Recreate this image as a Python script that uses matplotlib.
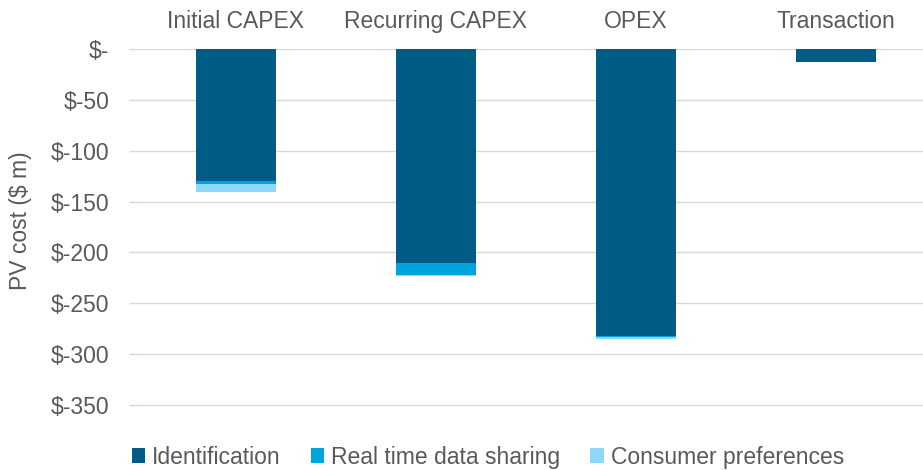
import numpy as np
import matplotlib.pyplot as plt
import matplotlib.ticker as mticker

plt.rcParams["font.family"] = ["Liberation Sans", "DejaVu Sans"]

categories = ["Initial CAPEX", "Recurring CAPEX", "OPEX", "Transaction"]
identification = [-130, -210, -282, -12]
real_time_sharing = [-3, -12, -1, 0]
consumer_prefs = [-8, -1, -2, 0]
series_names = ["Identification", "Real time data sharing", "Consumer preferences"]
colors = ["#005B85", "#00A3DB", "#8DD7F7"]
yticks = np.arange(0, -351, -50)

text_col = "#595959"
fs = 16.5

fig = plt.figure(figsize=(9.23, 4.70), dpi=100)
ax = fig.add_axes([0.147, 0.085, 0.867, 0.81])

x = np.arange(len(categories))
bottom = np.zeros(len(categories))
for vals, name, col in zip([identification, real_time_sharing, consumer_prefs], series_names, colors):
    ax.bar(x, vals, width=0.4, bottom=bottom, color=col, label=name, zorder=3)
    bottom += np.array(vals)

ax.set_xlim(-0.5, 3.5)
ax.set_ylim(-375, 0)
ax.set_yticks(yticks)
ax.yaxis.set_major_formatter(mticker.FuncFormatter(lambda v, p: "$-" if v == 0 else f"$-{abs(int(v))}"))
ax.grid(axis="y", color="#D9D9D9", linewidth=1, zorder=0)
ax.tick_params(axis="y", colors="#D9D9D9", labelcolor=text_col, labelsize=fs, length=5, width=1, pad=14)

ax.xaxis.tick_top()
ax.set_xticks(x)
ax.set_xticklabels(categories)
ax.tick_params(axis="x", length=0, labelsize=fs, labelcolor=text_col, pad=12)

for s in ax.spines.values():
    s.set_visible(False)

ax.set_ylabel("PV cost ($ m)", fontsize=fs, color=text_col)
ax.yaxis.set_label_coords(-0.13, 0.55)

ax.legend(loc="center", bbox_to_anchor=(0.44, -0.071), ncol=3, frameon=False,
          fontsize=fs, labelcolor=text_col, handlelength=0.6, handleheight=0.6,
          handletextpad=0.3, columnspacing=1.3, borderpad=0)

plt.savefig("out.png", dpi=100)
